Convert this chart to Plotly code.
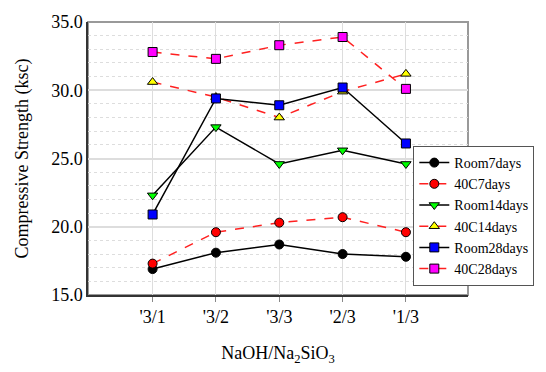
import plotly.graph_objects as go

categories = ["'3/1", "'3/2", "'3/3", "'2/3", "'1/3"]
room7 = [16.9, 18.1, 18.7, 18.0, 17.8]
c40_7 = [17.3, 19.6, 20.3, 20.7, 19.6]
room14 = [22.3, 27.3, 24.6, 25.6, 24.6]
c40_14 = [30.6, 29.5, 28.0, 29.9, 31.2]
room28 = [20.9, 29.4, 28.9, 30.2, 26.1]
c40_28 = [32.8, 32.3, 33.3, 33.9, 30.1]
yticks = [15, 20, 25, 30, 35]

series = [
    ("Room7days", room7, "black", "solid", "circle"),
    ("40C7days", c40_7, "#ff0000", "dash", "circle"),
    ("Room14days", room14, "#00ff00", "solid", "triangle-down"),
    ("40C14days", c40_14, "#ffff00", "dash", "triangle-up"),
    ("Room28days", room28, "#0000ff", "solid", "square"),
    ("40C28days", c40_28, "#ff00ff", "dash", "square"),
]

fig = go.Figure()
x = list(range(len(categories)))
for name, vals, color, dash, sym in series:
    linecolor = "black" if dash == "solid" else "#ff2020"
    fig.add_trace(go.Scatter(
        x=x, y=vals, name=name, mode="lines+markers",
        line=dict(color=linecolor, width=1.5, dash=dash),
        marker=dict(symbol=sym, size=9, color=color, line=dict(color="black", width=1)),
    ))

font = "'Liberation Serif', 'Times New Roman', 'DejaVu Serif', serif"
fig.update_layout(
    width=546, height=372,
    margin=dict(l=88, r=62, t=16, b=72),
    paper_bgcolor="white", plot_bgcolor="white",
    font=dict(family=font, size=18, color="black"),
    showlegend=True,
    legend=dict(
        x=(427 - 88) / 396, xanchor="left", y=(300 - 145) / 284, yanchor="top",
        bgcolor="white", bordercolor="#555555", borderwidth=1,
        font=dict(family=font, size=14, color="black"),
        tracegroupgap=0, itemwidth=30,
    ),
    xaxis=dict(
        range=[-1.02, 4.98], tickvals=x, ticktext=categories,
        tickfont=dict(family=font, size=18),
        showgrid=True, gridcolor="#dddddd", gridwidth=1,
        showline=True, linecolor="#333333", linewidth=1.5,
        ticks="outside", ticklen=5, tickcolor="#888888",
        zeroline=False,
        title=dict(text="NaOH/Na<sub>2</sub>SiO<sub>3</sub>", standoff=20,
                   font=dict(family=font, size=18)),
    ),
    yaxis=dict(
        range=[15, 35], tickvals=yticks, ticktext=[f"{v:.1f}" for v in yticks],
        tickfont=dict(family=font, size=18),
        showgrid=True, gridcolor="#dddddd", gridwidth=1.5,
        minor=dict(dtick=1, showgrid=True, gridcolor="#dddddd", griddash="dot", gridwidth=1),
        showline=True, linecolor="#333333", linewidth=1.5,
        ticks="", zeroline=False,
        title=dict(text="Compressive Strength (ksc)", standoff=18,
                   font=dict(family=font, size=18)),
    ),
    shapes=[dict(type="rect", xref="paper", yref="paper", x0=0, y0=0, x1=1, y1=1,
                 line=dict(color="#999999", width=2), layer="below")],
)

fig.write_html("out.html")
